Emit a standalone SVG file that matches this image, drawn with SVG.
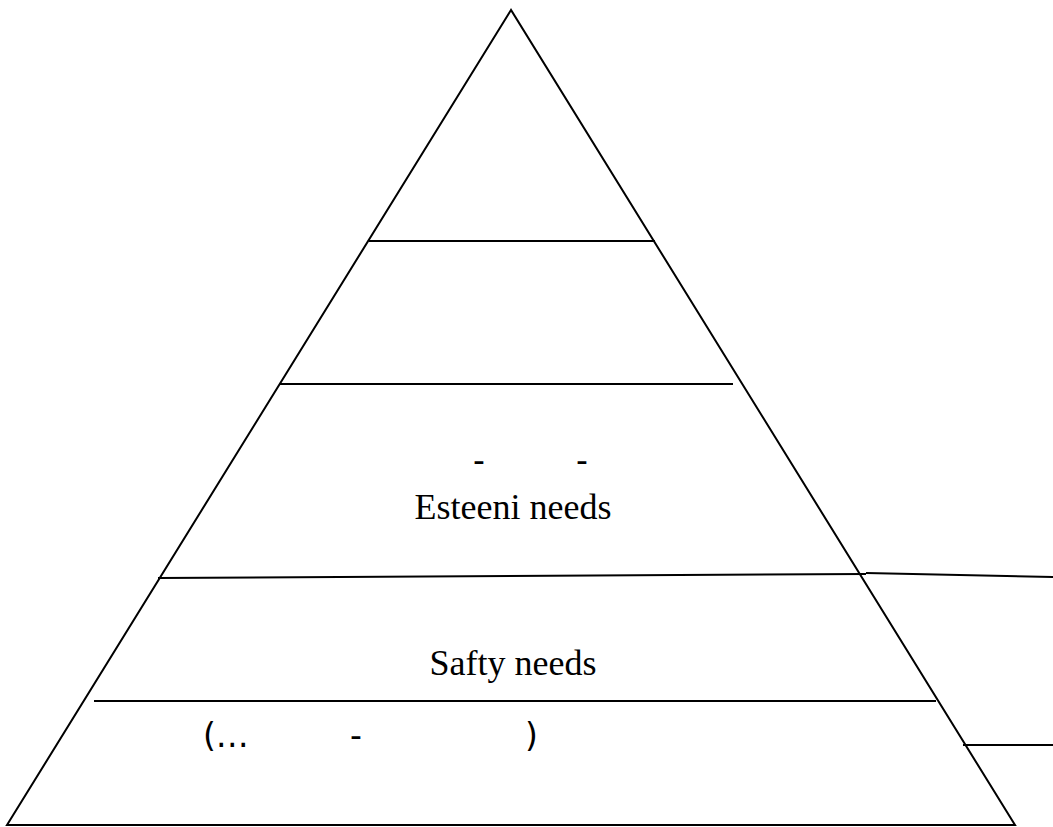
<svg xmlns="http://www.w3.org/2000/svg" width="1053" height="827" viewBox="0 0 1053 827">
<style>
.ln{stroke:#000;stroke-width:2;fill:none}
.serif{font-family:"Liberation Serif","Times New Roman",serif;font-size:36px;fill:#000}
.sans{font-family:"DejaVu Sans","Liberation Sans",sans-serif;font-size:33px;fill:#000}
</style>
<rect width="1053" height="827" fill="#fff"/>
<g id="pyramid">
<polygon class="ln" points="511,10 7,825 1015,825"/>
</g>
<g id="connectors">
<line class="ln" x1="369" y1="241" x2="655" y2="241"/>
<line class="ln" x1="279" y1="384" x2="733" y2="384"/>
<line class="ln" x1="158" y1="578" x2="866" y2="574"/>
<line class="ln" x1="866" y1="573" x2="1053" y2="577"/>
<line class="ln" x1="94" y1="701" x2="936" y2="701"/>
<line class="ln" x1="963" y1="745" x2="1053" y2="745"/>
</g>
<g id="level-esteem">
<text class="sans" x="473" y="472">-</text>
<text class="sans" x="576" y="472">-</text>
<text class="serif" x="513" y="519" text-anchor="middle">Esteeni needs</text>
</g>
<g id="level-safety">
<text class="serif" x="513" y="675" text-anchor="middle">Safty needs</text>
</g>
<g id="level-base">
<text class="sans" x="203" y="747">(…</text>
<text class="sans" x="350" y="747">-</text>
<text class="sans" x="525" y="747">)</text>
</g>
</svg>
